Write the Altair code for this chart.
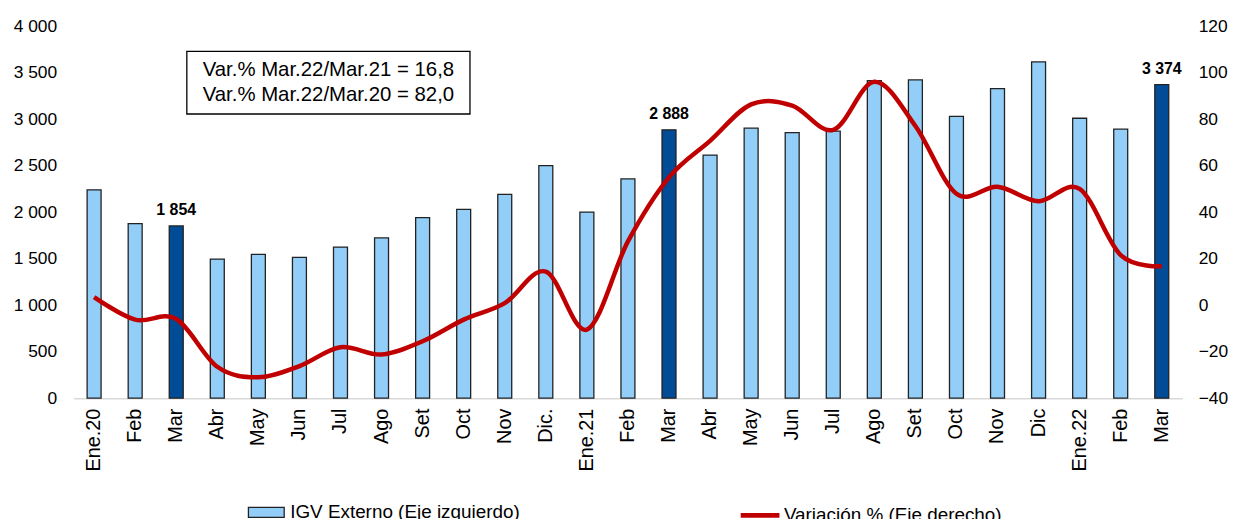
import altair as alt
import pandas as pd

# ---- data ----
meses = ["Ene.20", "Feb", "Mar", "Abr", "May", "Jun", "Jul", "Ago", "Set", "Oct", "Nov", "Dic.",
         "Ene.21", "Feb", "Mar", "Abr", "May", "Jun", "Jul", "Ago", "Set", "Oct", "Nov", "Dic",
         "Ene.22", "Feb", "Mar"]
igv = [2243, 1879, 1854, 1497, 1548, 1515, 1626, 1725, 1943, 2032, 2193, 2503,
       2003, 2360, 2888, 2617, 2906, 2859, 2874, 3419, 3426, 3034, 3333, 3619,
       3013, 2895, 3374]
variacion = [3.5, -6.2, -5.9, -26.5, -31.0, -26.2, -18.1, -21.2, -15.5, -6.2, 0.9, 14.5,
             -10.5, 27.5, 55.1, 70.8, 86.5, 86.0, 75.5, 96.2, 77.2, 48.0, 51.0, 44.8,
             50.1, 21.6, 16.8]
destacados = [2, 14, 26]

serie_barra = "IGV Externo (Eje izquierdo)"
serie_destacada = "Destacado"
serie_linea = "Variación % (Eje derecho)"
caja_lineas = ["Var.% Mar.22/Mar.21 = 16,8", "Var.% Mar.22/Mar.20 = 82,0"]

FONT = "Liberation Sans"
AZUL_CLARO = "#92CEF8"
AZUL_OSCURO = "#004C97"
ROJO = "#C00000"

df = pd.DataFrame({
    "idx": list(range(len(meses))),
    "igv": igv,
    "var": variacion,
    "tipo": [serie_destacada if i in destacados else serie_barra for i in range(len(meses))],
    "serie": [serie_linea] * len(meses),
    "etiqueta": [f"{v:,}".replace(",", " ") if i in destacados else "" for i, v in enumerate(igv)],
})

labels_js = "[" + ",".join("'" + m + "'" for m in meses) + "]"

x_enc = alt.X(
    "idx:O",
    scale=alt.Scale(paddingInner=0.66, paddingOuter=0.33),
    axis=alt.Axis(
        title=None, labelExpr=labels_js + "[datum.value]", labelAngle=-90,
        labelFontSize=20, labelPadding=10, ticks=False, grid=False,
        domain=True, domainColor="#D9D9D9", domainWidth=1.5,
        labelColor="#000000", labelFont=FONT,
    ),
)

y_left = alt.Y(
    "igv:Q",
    scale=alt.Scale(domain=[0, 4000]),
    axis=alt.Axis(
        title=None, values=list(range(0, 4001, 500)),
        labelExpr="replace(format(datum.value, ','), ',', ' ')",
        grid=False, domain=False, ticks=False, labelPadding=17,
        labelFontSize=17.5, labelColor="#000000", labelFont=FONT,
    ),
)

y_right = alt.Y(
    "var:Q",
    scale=alt.Scale(domain=[-40, 120]),
    axis=alt.Axis(
        title=None, orient="right", values=list(range(-40, 121, 20)),
        grid=False, domain=False, ticks=False, labelPadding=16,
        labelFontSize=17.5, labelColor="#000000", labelFont=FONT,
    ),
)

base = alt.Chart(df)

barras = base.mark_bar(stroke="#222222", strokeWidth=1.3).encode(
    x=x_enc,
    y=y_left,
    fill=alt.Fill(
        "tipo:N",
        scale=alt.Scale(domain=[serie_barra, serie_destacada], range=[AZUL_CLARO, AZUL_OSCURO]),
        legend=alt.Legend(
            title=None, values=[serie_barra], orient="none", legendX=175, legendY=470,
            symbolType="M-1,-0.28H1V0.28H-1Z", symbolSize=1296,
            symbolStrokeColor="#222222", symbolStrokeWidth=1.3,
            labelFontSize=19, labelFont=FONT, labelColor="#000000", labelOffset=5,
            labelLimit=600, padding=0,
        ),
    ),
)

etiquetas = base.mark_text(
    fontSize=16, fontWeight="bold", font=FONT, color="#000000", dy=-11, baseline="alphabetic"
).encode(x=x_enc, y=y_left, text="etiqueta:N")

linea = base.mark_line(interpolate="cardinal", strokeWidth=4.5).encode(
    x=x_enc,
    y=y_right,
    stroke=alt.Stroke(
        "serie:N",
        scale=alt.Scale(domain=[serie_linea], range=[ROJO]),
        legend=alt.Legend(
            title=None, orient="none", legendX=669, legendY=470,
            symbolType="stroke", symbolSize=1521, symbolStrokeWidth=5,
            labelFontSize=19, labelFont=FONT, labelColor="#000000", labelOffset=2,
            labelLimit=600, padding=0,
        ),
    ),
)

dummy = alt.Chart(pd.DataFrame({"a": [0]}))
caja = dummy.mark_rect(fill="white", stroke="#000000", strokeWidth=1.3).encode(
    x=alt.value(114), x2=alt.value(399), y=alt.value(25), y2=alt.value(88)
)
caja_texto = dummy.mark_text(
    text=caja_lineas, fontSize=20.5, font=FONT, color="#000000", lineHeight=25,
    align="center", baseline="middle"
).encode(x=alt.value(256.5), y=alt.value(43.5))

bars_layer = alt.layer(barras, etiquetas)
chart = alt.layer(bars_layer, linea, caja, caja_texto).resolve_scale(
    y="independent", fill="independent", stroke="independent"
).properties(
    width=1116, height=374,
    autosize=alt.AutoSizeParams(type="none"),
    padding={"left": 66, "top": 17, "right": 47, "bottom": 128},
).configure(
    font=FONT,
    view=alt.ViewConfig(stroke="transparent", strokeWidth=0),
    axisY=alt.AxisConfig(domain=False, ticks=False, grid=False),
    style={"cell": {"stroke": "transparent", "strokeWidth": 0}},
)

chart.save("out.html", embed_options={"renderer": "svg", "actions": False})
